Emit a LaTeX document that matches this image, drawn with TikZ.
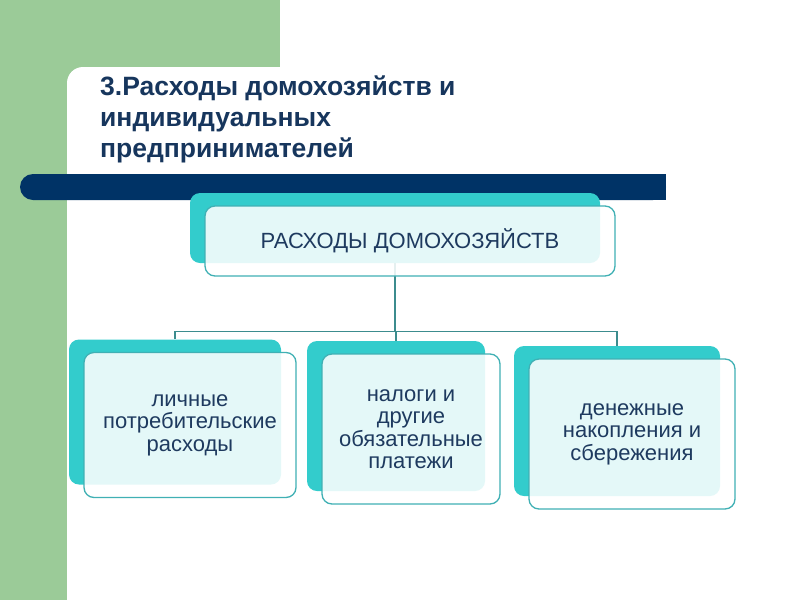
\documentclass[tikz,border=0pt]{standalone}
\usepackage{fontspec}
\setmainfont{Liberation Sans}
\definecolor{uigreen}{RGB}{155, 203, 152}
\definecolor{uinavy}{RGB}{0, 51, 102}
\definecolor{uiteal}{RGB}{51, 204, 204}
\definecolor{uiedge}{RGB}{64, 176, 180}
\definecolor{uiline}{RGB}{60, 140, 142}
\definecolor{uititle}{RGB}{23, 54, 93}
\definecolor{uitext}{RGB}{30, 58, 95}
\usetikzlibrary{arrows}

\begin{document}
\begin{tikzpicture}[x=1pt,y=-1pt,
    back box/.style={rectangle,rounded corners=10pt,fill=uiteal,inner sep=0pt},
    front box/.style={rectangle,rounded corners=10pt,draw=uiedge,line width=1.3pt,fill=white,fill opacity=0.87,text opacity=1,text=uitext,align=center,inner sep=0pt,font=\fontsize{22}{22.5}\selectfont},
    link/.style={draw=uiline,line width=1.4pt}]
    \useasboundingbox (0,0) rectangle (800,600);

    % slide background
    \fill[uigreen] (0,0) rectangle (280,90);
    \fill[uigreen] (0,0) rectangle (90,600);
    \fill[white,rounded corners=16pt] (67,67) rectangle (860,660);
    \fill[uinavy,rounded corners=13pt] (20,174) rectangle (666,200);
    \fill[uinavy] (640,174) rectangle (666,200);
    \node[anchor=north west,inner sep=0pt,align=left,text=uititle,font=\fontsize{26.5}{31}\selectfont\bfseries] (title) at (100,76)
      {3.Расходы домохозяйств и\\индивидуальных\\предпринимателей};

    % shadow boxes
    \node[back box,minimum width=410pt,minimum height=70pt] (s0) at (395,228) {};
    \node[back box,minimum width=212pt,minimum height=145pt] (s1) at (175,412) {};
    \node[back box,minimum width=178pt,minimum height=150pt] (s2) at (396,416) {};
    \node[back box,minimum width=206pt,minimum height=150pt] (s3) at (617,421) {};

    \foreach \i in {1,2,3}
      \draw[link] (s0.south) -- ++(0,68) -| (s\i.north);

    % text boxes
    \node[front box,minimum width=410pt,minimum height=70pt] (0) at ([shift={(15,13)}]s0.center) {РАСХОДЫ ДОМОХОЗЯЙСТВ};
    \node[front box,minimum width=212pt,minimum height=145pt] (1) at ([shift={(15,13)}]s1.center) {личные\\потребительские\\расходы};
    \node[front box,minimum width=178pt,minimum height=150pt] (2) at ([shift={(15,13)}]s2.center) {налоги и\\другие\\обязательные\\платежи};
    \node[front box,minimum width=206pt,minimum height=150pt] (3) at ([shift={(15,13)}]s3.center) {денежные\\накопления и\\сбережения};
\end{tikzpicture}
\end{document}
